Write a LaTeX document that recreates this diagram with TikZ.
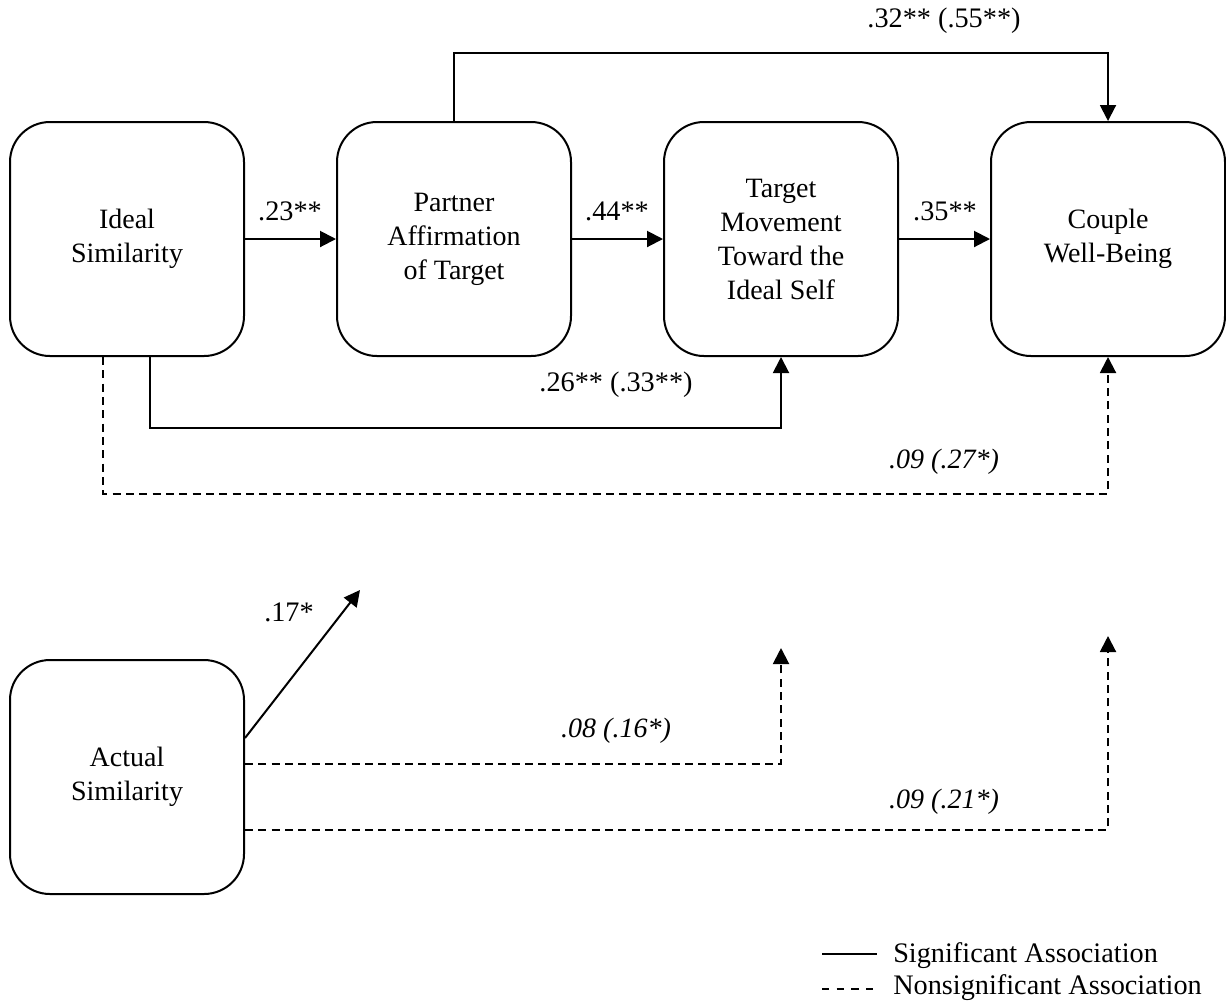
\documentclass[tikz,border=0pt]{standalone}
\usepackage{fontspec}
\setmainfont{Liberation Serif}
\usetikzlibrary{arrows.meta,calc}
\begin{document}
\begin{tikzpicture}[x=0.75pt,y=-0.75pt,
  box/.style={draw,line width=1.5pt,rounded corners=30pt,minimum width=175.5pt,minimum height=175.5pt,inner sep=0pt,align=center,font=\fontsize{21}{25.5}\selectfont},
  conn/.style={line width=1.5pt,-{Triangle[length=12pt,width=12pt]}},
  ns/.style={conn,dash pattern=on 6pt off 4pt},
  lbl/.style={font=\fontsize{21.2}{25.5}\selectfont,inner sep=0pt},
  ilbl/.style={inner sep=0pt,font=\fontsize{21}{25.5}\selectfont\itshape},
  legline/.style={line width=0.9pt}]
\useasboundingbox (0,0) rectangle (1226,1001);

\node[box] (I) at (127,239) {Ideal\\Similarity};
\node[box] (P) at (454,239) {Partner\\Affirmation\\of Target};
\node[box] (T) at (781,239) {Target\\Movement\\Toward the\\Ideal Self};
\node[box] (C) at (1108,239) {Couple\\Well-Being};
\node[box] (A) at (127,777) {Actual\\Similarity};

\coordinate (e17) at (360,590);
\coordinate (e08) at (781,648);
\coordinate (e21) at (1108,636);

\draw[conn] (I) -- (P);
\draw[conn] (P) -- (T);
\draw[conn] (T) -- (C);
\draw[conn] (P.north) -- ++(0,-68) -| (C.north);
\draw[conn] ($(I.south)+(23,0)$) -- ++(0,71) -| (T.south);
\draw[ns] ($(I.south)+(-24,0)$) -- ++(0,137) -| (C.south);
\draw[conn] ($(A.east)+(0,-39)$) -- (e17);
\draw[ns] ($(A.east)+(0,-13)$) -| (e08);
\draw[ns] ($(A.east)+(0,53)$) -| (e21);

\node[lbl] (l23) at (290,211) {.23**};
\node[lbl] (l44) at (617,211) {.44**};
\node[lbl] (l35) at (945,211) {.35**};
\node[lbl] (l32) at (944,21) {.32** (.55**)};
\node[lbl] (l26) at (616,385) {.26** (.33**)};
\node[ilbl] (l09a) at (944,462) {.09 (.27*)};
\node[lbl] (l17) at (289,612) {.17*};
\node[ilbl] (l08) at (616,731) {.08 (.16*)};
\node[ilbl] (l09b) at (944,802) {.09 (.21*)};

\coordinate (s1) at (822,954);
\coordinate (s2) at (877,954);
\coordinate (n1) at (822,989);
\coordinate (n2) at (873,989);
\draw[legline] (s1) -- (s2);
\draw[legline,dash pattern=on 5.5pt off 5.5pt] (n1) -- (n2);
\node[lbl,anchor=base west] (sig) at (893,962) {Significant Association};
\node[lbl,anchor=base west] (nsig) at (893,994) {Nonsignificant Association};
\end{tikzpicture}
\end{document}
